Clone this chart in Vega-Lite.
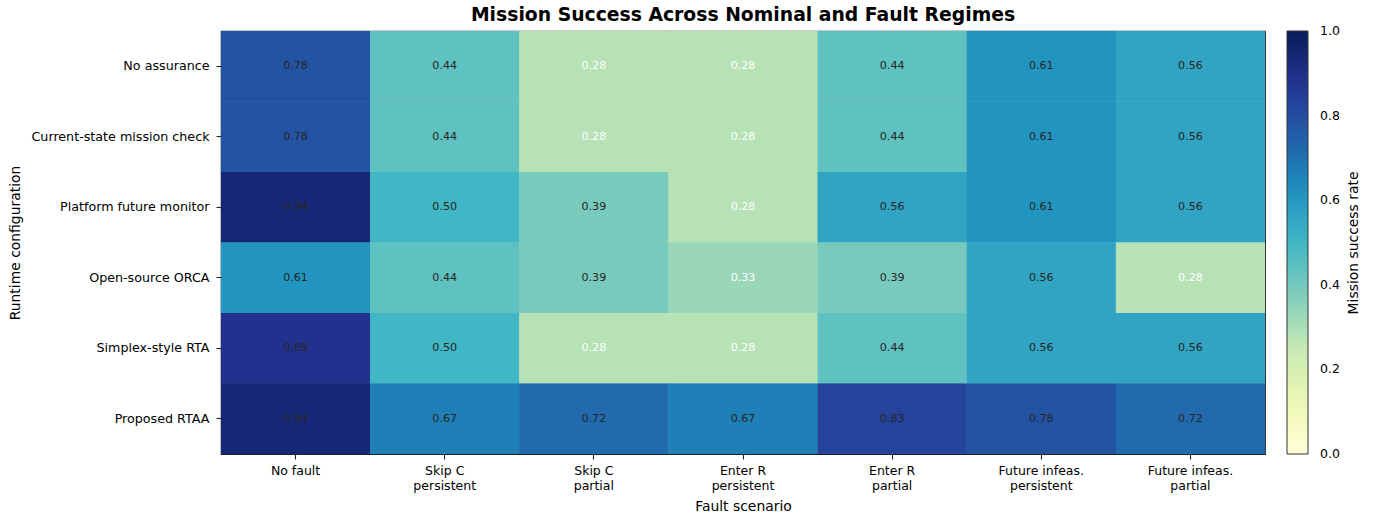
{
  "$schema": "https://vega.github.io/schema/vega-lite/v6.json",
  "width": 1044,
  "height": 423,
  "autosize": {"type": "none"},
  "padding": {"left": 221, "top": 31, "right": 109, "bottom": 63},
  "title": {"text": "Mission Success Across Nominal and Fault Regimes", "fontSize": 18.8, "fontWeight": "bold", "font": "DejaVu Sans", "color": "#000", "offset": 6},
  "data": {"values": [
    {"config": "No assurance", "scenario": "No fault", "rate": 0.78},
    {"config": "No assurance", "scenario": "Skip C|persistent", "rate": 0.44},
    {"config": "No assurance", "scenario": "Skip C|partial", "rate": 0.28},
    {"config": "No assurance", "scenario": "Enter R|persistent", "rate": 0.28},
    {"config": "No assurance", "scenario": "Enter R|partial", "rate": 0.44},
    {"config": "No assurance", "scenario": "Future infeas.|persistent", "rate": 0.61},
    {"config": "No assurance", "scenario": "Future infeas.|partial", "rate": 0.56},
    {"config": "Current-state mission check", "scenario": "No fault", "rate": 0.78},
    {"config": "Current-state mission check", "scenario": "Skip C|persistent", "rate": 0.44},
    {"config": "Current-state mission check", "scenario": "Skip C|partial", "rate": 0.28},
    {"config": "Current-state mission check", "scenario": "Enter R|persistent", "rate": 0.28},
    {"config": "Current-state mission check", "scenario": "Enter R|partial", "rate": 0.44},
    {"config": "Current-state mission check", "scenario": "Future infeas.|persistent", "rate": 0.61},
    {"config": "Current-state mission check", "scenario": "Future infeas.|partial", "rate": 0.56},
    {"config": "Platform future monitor", "scenario": "No fault", "rate": 0.94},
    {"config": "Platform future monitor", "scenario": "Skip C|persistent", "rate": 0.50},
    {"config": "Platform future monitor", "scenario": "Skip C|partial", "rate": 0.39},
    {"config": "Platform future monitor", "scenario": "Enter R|persistent", "rate": 0.28},
    {"config": "Platform future monitor", "scenario": "Enter R|partial", "rate": 0.56},
    {"config": "Platform future monitor", "scenario": "Future infeas.|persistent", "rate": 0.61},
    {"config": "Platform future monitor", "scenario": "Future infeas.|partial", "rate": 0.56},
    {"config": "Open-source ORCA", "scenario": "No fault", "rate": 0.61},
    {"config": "Open-source ORCA", "scenario": "Skip C|persistent", "rate": 0.44},
    {"config": "Open-source ORCA", "scenario": "Skip C|partial", "rate": 0.39},
    {"config": "Open-source ORCA", "scenario": "Enter R|persistent", "rate": 0.33},
    {"config": "Open-source ORCA", "scenario": "Enter R|partial", "rate": 0.39},
    {"config": "Open-source ORCA", "scenario": "Future infeas.|persistent", "rate": 0.56},
    {"config": "Open-source ORCA", "scenario": "Future infeas.|partial", "rate": 0.28},
    {"config": "Simplex-style RTA", "scenario": "No fault", "rate": 0.89},
    {"config": "Simplex-style RTA", "scenario": "Skip C|persistent", "rate": 0.50},
    {"config": "Simplex-style RTA", "scenario": "Skip C|partial", "rate": 0.28},
    {"config": "Simplex-style RTA", "scenario": "Enter R|persistent", "rate": 0.28},
    {"config": "Simplex-style RTA", "scenario": "Enter R|partial", "rate": 0.44},
    {"config": "Simplex-style RTA", "scenario": "Future infeas.|persistent", "rate": 0.56},
    {"config": "Simplex-style RTA", "scenario": "Future infeas.|partial", "rate": 0.56},
    {"config": "Proposed RTAA", "scenario": "No fault", "rate": 0.94},
    {"config": "Proposed RTAA", "scenario": "Skip C|persistent", "rate": 0.67},
    {"config": "Proposed RTAA", "scenario": "Skip C|partial", "rate": 0.72},
    {"config": "Proposed RTAA", "scenario": "Enter R|persistent", "rate": 0.67},
    {"config": "Proposed RTAA", "scenario": "Enter R|partial", "rate": 0.83},
    {"config": "Proposed RTAA", "scenario": "Future infeas.|persistent", "rate": 0.78},
    {"config": "Proposed RTAA", "scenario": "Future infeas.|partial", "rate": 0.72}
  ]},
  "encoding": {
    "x": {
      "field": "scenario", "type": "nominal",
      "sort": ["No fault", "Skip C|persistent", "Skip C|partial", "Enter R|persistent", "Enter R|partial", "Future infeas.|persistent", "Future infeas.|partial"],
      "scale": {"paddingInner": 0, "paddingOuter": 0},
      "title": "Fault scenario",
      "axis": {"labelExpr": "split(datum.label, '|')", "labelAngle": 0, "labelLineHeight": 15, "labelPadding": 5, "titlePadding": 8}
    },
    "y": {
      "field": "config", "type": "nominal",
      "sort": ["No assurance", "Current-state mission check", "Platform future monitor", "Open-source ORCA", "Simplex-style RTA", "Proposed RTAA"],
      "scale": {"paddingInner": 0, "paddingOuter": 0},
      "title": "Runtime configuration",
      "axis": {"labelPadding": 7, "titlePadding": 8, "labelFontSize": 12.7}
    },
    "color": {
      "field": "rate", "type": "quantitative",
      "scale": {
        "domain": [0, 0.125, 0.25, 0.375, 0.5, 0.625, 0.75, 0.875, 1],
        "range": ["#ffffd9", "#edf8b1", "#c7e9b4", "#7fcdbb", "#41b6c4", "#1d91c0", "#225ea8", "#253494", "#081d58"],
        "interpolate": "rgb"
      },
      "legend": {
        "title": "Mission success rate",
        "values": [0, 0.2, 0.4, 0.6, 0.8, 1],
        "format": ".1f",
        "orient": "right",
        "offset": 22,
        "gradientLength": 423,
        "gradientThickness": 21,
        "gradientStrokeColor": "#333",
        "gradientStrokeWidth": 1,
        "labelFontSize": 12.5,
        "labelColor": "#000",
        "labelFont": "DejaVu Sans",
        "labelOffset": 12,
        "labelOverlap": false,
        "labelBaseline": "middle",
        "titleOrient": "right",
        "titleFontSize": 13.9,
        "titleFontWeight": "normal",
        "titleFont": "DejaVu Sans",
        "titleColor": "#000",
        "titleAnchor": "middle",
        "titleBaseline": "middle",
        "titlePadding": 14,
        "encode": {
          "labels": {"update": {"baseline": {"value": "middle"}}},
          "title": {"update": {"angle": {"value": 270}}}
        }
      }
    }
  },
  "layer": [
    {"mark": {"type": "rect"}},
    {"mark": {"type": "rect"}},
    {
      "mark": {"type": "text", "fontSize": 11.1, "font": "DejaVu Sans"},
      "encoding": {
        "text": {"field": "rate", "type": "quantitative", "format": ".2f"},
        "color": {"condition": {"test": "datum.rate < 0.35", "value": "#ffffff"}, "value": "#262626"}
      }
    }
  ],
  "config": {
    "font": "DejaVu Sans",
    "view": {"stroke": "#222", "strokeWidth": 1.2},
    "axis": {
      "domain": false,
      "grid": false,
      "ticks": true,
      "tickSize": 5,
      "tickColor": "#222",
      "tickWidth": 1.1,
      "labelFont": "DejaVu Sans",
      "labelFontSize": 12.5,
      "labelColor": "#000",
      "labelPadding": 3,
      "titleFont": "DejaVu Sans",
      "titleFontSize": 13.9,
      "titleFontWeight": "normal",
      "titleColor": "#000"
    }
  }
}
